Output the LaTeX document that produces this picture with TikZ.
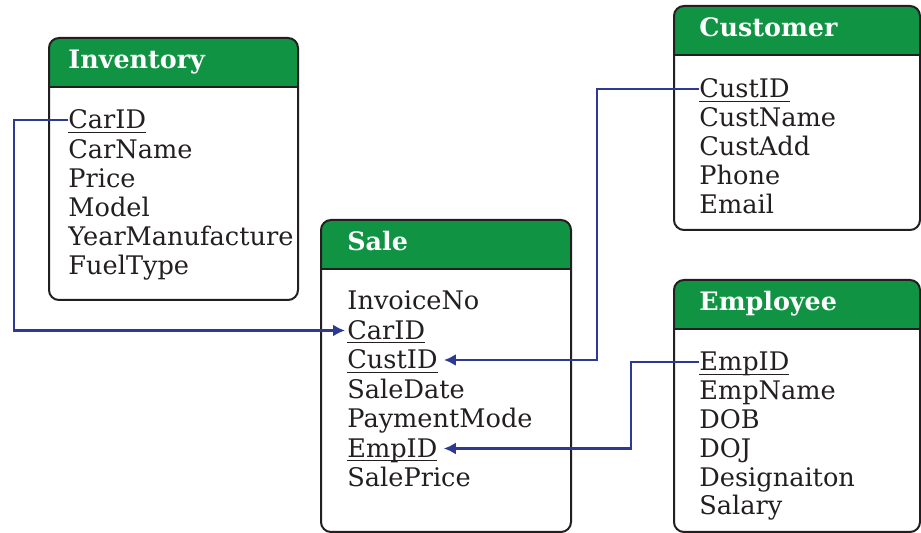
\documentclass[tikz,border=0pt]{standalone}
\usepackage{fontspec}
\setmainfont{DejaVu Serif}
\usepackage{tikz}
\usepackage{xcolor}
\usetikzlibrary{arrows.meta}

\definecolor{headgreen}{RGB}{16,148,68}
\definecolor{linkblue}{RGB}{46,57,146}
\definecolor{boxgray}{RGB}{35,31,32}

% key attribute: underline just under the baseline
\newcommand{\pkey}[1]{\setbox0\hbox{#1}\rlap{\rule[-2pt]{\wd0}{0.7pt}}\box0}

\begin{document}
\begin{tikzpicture}[x=0.5pt, y=-0.5pt,
    box/.style={draw=boxgray, line width=1pt, rounded corners=5pt},
    head/.style={font=\fontsize{12.7}{14}\selectfont\bfseries, text=white,
                 anchor=base west, inner sep=0pt},
    attr/.style={font=\fontsize{12.8}{14}\selectfont, text=boxgray,
                 anchor=base west, inner sep=0pt, text height=11pt, text depth=2pt},
    fk/.style={draw=linkblue, line width=1.2pt, -{Latex[length=6pt,width=6pt]}}]
  \useasboundingbox (0,0) rectangle (921,533);
  \clip (0,0) rectangle (921,533);

  % tables: frame, green head and title
  \foreach \nm/\xa/\ya/\xb/\yb/\tx/\ttl in {inv/49/38/298/300/68/Inventory,
      sale/321/220/571/532/347/Sale, cus/674/6/920/230/699/Customer,
      emp/674/280/920/532/699/Employee} {
    \begin{scope}
      \clip[rounded corners=5pt] (\xa,\ya) rectangle (\xb,\yb);
      \fill[headgreen] (\xa,\ya) rectangle (\xb,\ya+49);
    \end{scope}
    \draw[boxgray, line width=1pt] (\xa,\ya+49) -- (\xb,\ya+49);
    \draw[box] (\xa,\ya) rectangle (\xb,\yb);
    \node[head] (\nm-title) at (\tx,\ya+31) {\ttl};
  }

  % attributes
  \foreach \a [count=\i] in {\pkey{CarID}, CarName, Price, Model,
      YearManufacture, FuelType}
    \node[attr] (inv-\i) at (68,129+29.2*\i-29.2) {\a};
  \foreach \a [count=\i] in {InvoiceNo, \pkey{CarID}, \pkey{CustID},
      SaleDate, PaymentMode, \pkey{EmpID}, SalePrice}
    \node[attr] (sale-\i) at (347,310+29.5*\i-29.5) {\a};
  \foreach \a [count=\i] in {\pkey{CustID}, CustName, CustAdd, Phone, Email}
    \node[attr] (cus-\i) at (699,98+28.8*\i-28.8) {\a};
  \foreach \a [count=\i] in {\pkey{EmpID}, EmpName, DOB, DOJ,
      Designaiton, Salary}
    \node[attr] (emp-\i) at (699,371+28.8*\i-28.8) {\a};

  % foreign keys
  \draw[fk, shorten >=1pt] (inv-1.west) -- ++(-54,0) |- (sale-2.west);
  \draw[fk, shorten >=3pt] (cus-1.west) -- ++(-102,0) |- (sale-3.east);
  \draw[fk, shorten >=3pt] (emp-1.west) -- ++(-68,0) |- (sale-6.east);
\end{tikzpicture}
\end{document}
